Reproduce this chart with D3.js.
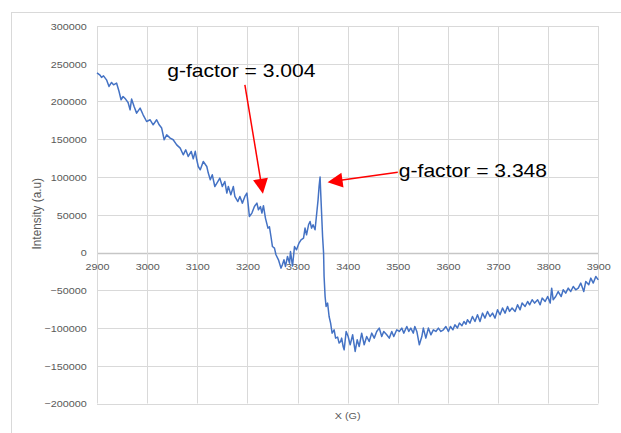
<!DOCTYPE html>
<html>
<head>
<meta charset="utf-8">
<script src="https://cdn.jsdelivr.net/npm/d3@7"></script>
<style>
  html, body { margin: 0; padding: 0; background: #fff; }
  svg { display: block; }
</style>
</head>
<body>
<svg id="chart" width="621" height="433"></svg>
<script>
// ---- data ----
const fieldG = [
  2900,2906,2909,2913,2919,2924,2929,2933,2939,2944,2948,2952,2957,2962,2966,2969,2974,2979,2986,2992,
  2999,3006,3012,3019,3024,3029,3034,3039,3046,3052,3059,3066,3072,3077,3082,3088,3092,3096,3099,3102,
  3106,3112,3119,3122,3126,3130,3135,3141,3145,3150,3155,3159,3162,3167,3172,3175,3181,3185,3190,3195,
  3199,3202,3204,3209,3214,3219,3222,3226,3229,3232,3236,3241,3244,3247,3250,3254,3257,3262,3267,3270,
  3273,3276,3280,3284,3286,3290,3294,3298,3303,3307,3312,3315,3318,3322,3325,3328,3331,3335,3339,3341,
  3343,3345,3346,3348,3350,3352,3353,3355,3357,3360,3363,3366,3369,3373,3376,3380,3383,3386,3388,3391,
  3393,3397,3401,3405,3410,3415,3419,3423,3428,3433,3438,3443,3448,3453,3458,3463,3468,3472,3478,3483,
  3488,3492,3498,3503,3508,3512,3518,3522,3526,3531,3534,3538,3543,3548,3551,3556,3561,3566,3571,3576,
  3581,3586,3591,3596,3601,3605,3610,3614,3619,3623,3628,3632,3636,3639,3644,3649,3654,3659,3664,3669,
  3674,3679,3684,3689,3694,3699,3704,3709,3714,3719,3723,3728,3734,3739,3744,3748,3754,3759,3763,3768,
  3773,3779,3784,3788,3794,3799,3804,3807,3810,3815,3820,3826,3830,3835,3840,3845,3850,3855,3860,3865,
  3871,3875,3881,3885,3890,3895,3900
];
const intensity = [
  238000,235000,232000,234000,228700,219900,225200,222100,224400,213200,202300,206600,203200,198700,189000,203200,193400,184600,191300,182400,
  173500,175800,169100,175800,169100,164800,149300,155900,151500,149300,142600,138300,129400,136000,127200,133800,124000,134000,122800,113900,
  109500,120500,113900,105200,96300,102900,87400,94000,98500,87400,94000,78700,87400,76400,87400,74200,67500,74200,65400,74200,
  78700,60900,47700,52200,60900,65400,56600,60900,52200,62000,45600,32300,34000,21200,7900,5800,-3000,-9700,-20700,-16000,
  -9700,-18500,-5300,-14100,1300,-18000,7900,3600,12500,16800,19000,32300,23400,36700,41100,32300,36700,30100,56600,69800,
  87400,99900,83000,52200,21200,-800,-31800,-58300,-71500,-67000,-84800,-93500,-106800,-102400,-113400,-112000,-120000,-117900,-113400,-124500,
  -128900,-104600,-111300,-122300,-109000,-131100,-115600,-124500,-106800,-122300,-111300,-117900,-106800,-113400,-104600,-100100,-111300,-104600,-109000,-113400,
  -104600,-111300,-102400,-104600,-100100,-106800,-98000,-104600,-100100,-106800,-98000,-104600,-122300,-111300,-100100,-113400,-100100,-109000,-102400,-104600,
  -100100,-104600,-102400,-98000,-104600,-98000,-102400,-95800,-100100,-93500,-97000,-91400,-95000,-89100,-93500,-84800,-91400,-82500,-91400,-80300,
  -86900,-78100,-84800,-80300,-86900,-75900,-82500,-73600,-80300,-71500,-78000,-73600,-78100,-69300,-75900,-67000,-71500,-64900,-69300,-62600,
  -67000,-62600,-69300,-60400,-64900,-58300,-67000,-47200,-62600,-58300,-51700,-58300,-49400,-53800,-47200,-51700,-45000,-49400,-47200,-40500,
  -51700,-38400,-42800,-33900,-40500,-31800,-36200
];
const xTicks = [2900,3000,3100,3200,3300,3400,3500,3600,3700,3800,3900];
const yTicks = [-200000,-150000,-100000,-50000,0,50000,100000,150000,200000,250000,300000];
const xTitle = "X (G)";
const yTitle = "Intensity (a.u)";
// annotations in data coordinates: label, text anchor, arrow tail, arrow tip
const annLabels = ["g-factor = 3.004", "g-factor = 3.348"];
const annText = [[3040, 232300], [3502, 100300]];
const annTail = [[3195, 222100], [3500, 106200]];
const annTip  = [[3231, 77700], [3360, 93200]];

// ---- layout ----
const svg = d3.select("#chart");
const pL = 97, pR = 598.3, pT = 26, pB = 403.5;
const SX = 1.16; // horizontal text stretch seen in reference
const x = d3.scaleLinear().domain([2900, 3900]).range([pL, pR]);
const y = d3.scaleLinear().domain([-200000, 300000]).range([pB, pT]);

svg.append("rect").attr("width", 621).attr("height", 433).attr("fill", "#fff");
svg.append("rect").attr("x", 11.5).attr("y", 12.5).attr("width", 640).attr("height", 440)
  .attr("fill", "none").attr("stroke", "#d9d9d9").attr("stroke-width", 1);

// gridlines
const grid = svg.append("g");
grid.selectAll("line.h").data(yTicks).join("line")
  .attr("x1", pL).attr("x2", pR)
  .attr("y1", d => Math.round(y(d)) + 0.5).attr("y2", d => Math.round(y(d)) + 0.5)
  .attr("stroke", d => d === 0 ? "#c6c6c6" : "#d9d9d9").attr("stroke-width", d => d === 0 ? 1.3 : 1);
grid.selectAll("line.v").data(xTicks).join("line")
  .attr("y1", pT).attr("y2", pB)
  .attr("x1", d => Math.round(x(d)) + 0.5).attr("x2", d => Math.round(x(d)) + 0.5)
  .attr("stroke", "#d9d9d9").attr("stroke-width", 1);

// axes (labels only)
const fmt = d3.format("d");
const gy = svg.append("g").attr("transform", `translate(${pL},0)`)
  .call(d3.axisLeft(y).tickValues(yTicks).tickFormat(fmt).tickSize(0));
gy.select(".domain").remove();
gy.selectAll("text")
  .attr("x", null).attr("dy", "0.35em")
  .attr("transform", `translate(-10.3,0) scale(${SX},1)`)
  .attr("fill", "#595959").style("font", "9.3px 'Liberation Sans', Arial, sans-serif")
  .attr("text-anchor", "end");

const gx = svg.append("g").attr("transform", `translate(0,${y(0)})`)
  .call(d3.axisBottom(x).tickValues(xTicks).tickFormat(fmt).tickSize(0));
gx.select(".domain").remove();
gx.selectAll("text")
  .attr("y", null).attr("dy", null)
  .attr("transform", `translate(0,17.3) scale(${SX},1)`)
  .attr("fill", "#595959").style("font", "9.3px 'Liberation Sans', Arial, sans-serif")
  .attr("text-anchor", "middle");

// axis titles
svg.append("text").text(xTitle)
  .attr("transform", `translate(${(pL + pR) / 2},418.5) scale(${SX},1)`)
  .attr("text-anchor", "middle").attr("fill", "#595959")
  .style("font", "9.3px 'Liberation Sans', Arial, sans-serif");
svg.append("text").text(yTitle)
  .attr("transform", `translate(40.5,${(pT + pB) / 2 - 1}) scale(${SX},1) rotate(-90)`)
  .attr("text-anchor", "middle").attr("fill", "#595959")
  .style("font", "11.8px 'Liberation Sans', Arial, sans-serif");

// data line
const line = d3.line().x((d, i) => x(fieldG[i])).y(d => y(d));
svg.append("path").datum(intensity)
  .attr("d", line)
  .attr("fill", "none").attr("stroke", "#4472c4").attr("stroke-width", 1.5)
  .attr("stroke-linejoin", "round");

// annotations
const ann = svg.append("g");
annLabels.forEach((lab, i) => {
  const tx = x(annText[i][0]), ty = y(annText[i][1]);
  ann.append("text").text(lab)
    .attr("transform", `translate(${tx},${ty}) scale(${SX},1)`)
    .attr("fill", "#000").style("font", "18.2px 'Liberation Sans', Arial, sans-serif");
  const x0 = x(annTail[i][0]), y0 = y(annTail[i][1]);
  const x1 = x(annTip[i][0]), y1 = y(annTip[i][1]);
  const dx = x1 - x0, dy = y1 - y0, L = Math.hypot(dx, dy);
  const ux = dx / L, uy = dy / L, hl = 15, hw = 7.5;
  const bx = x1 - ux * hl, by = y1 - uy * hl;
  ann.append("line").attr("x1", x0).attr("y1", y0).attr("x2", bx + ux * 2).attr("y2", by + uy * 2)
    .attr("stroke", "#ff0000").attr("stroke-width", 1.5);
  ann.append("path")
    .attr("d", `M${x1},${y1}L${bx - uy * hw},${by + ux * hw}L${bx + uy * hw},${by - ux * hw}Z`)
    .attr("fill", "#ff0000");
});
</script>
</body>
</html>
